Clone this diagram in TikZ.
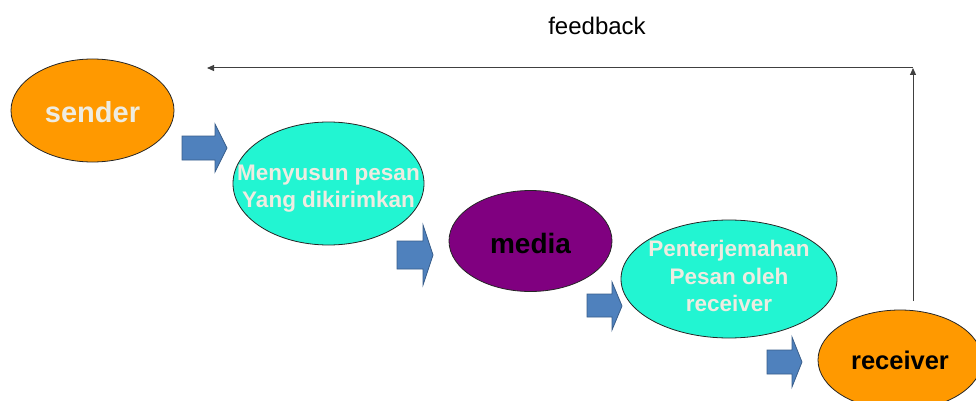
\documentclass[tikz,border=0pt]{standalone}
\usepackage{fontspec}
\setmainfont{Liberation Sans}
\usetikzlibrary{shapes.geometric,arrows.meta}
\definecolor{orng}{HTML}{FF9900}
\definecolor{aqua}{HTML}{22F5D2}
\definecolor{purp}{HTML}{800080}
\definecolor{blk}{HTML}{4F81BD}
\definecolor{blkedge}{HTML}{385D8A}
\definecolor{cream}{HTML}{EEECE1}
\tikzset{
  oval/.style={ellipse, draw=black!85, line width=0.8pt, inner sep=0pt},
  ovaltext/.style={align=center, inner sep=0pt},
  blockarrow/.style={fill=blk, draw=blkedge, line width=0.8pt, line join=miter},
  fb/.style={draw=black!75, line width=1pt, -{Triangle[length=7pt,width=6pt]}},
}
\begin{document}
\begin{tikzpicture}[x=1pt,y=-1pt]
\clip (0,0) rectangle (976,401);
\useasboundingbox (0,0) rectangle (976,401);
% ellipses
\node[oval, fill=orng, minimum width=163pt, minimum height=103pt,
  label={[ovaltext, text=cream, font=\bfseries\fontsize{29}{34}\selectfont, yshift=-1.5pt]center:sender}] (sender) at (92.5,110.5) {};
\node[oval, fill=aqua, minimum width=191pt, minimum height=123pt,
  label={[ovaltext, text=cream, font=\bfseries\fontsize{22.5}{27}\selectfont, yshift=-5pt]center:Menyusun pesan\\Yang dikirimkan}] (susun) at (328.5,183.5) {};
\node[oval, fill=purp, minimum width=163pt, minimum height=101pt,
  label={[ovaltext, text=black, font=\bfseries\fontsize{28}{33}\selectfont, yshift=-2pt]center:media}] (media) at (530.5,241) {};
\node[oval, fill=aqua, minimum width=216pt, minimum height=118pt,
  label={[ovaltext, text=cream, font=\bfseries\fontsize{22.5}{27.5}\selectfont, yshift=3pt]center:Penterjemahan\\Pesan oleh\\receiver}] (terjemah) at (729,279) {};
\node[oval, fill=orng, minimum width=164pt, minimum height=100pt,
  label={[ovaltext, text=black, font=\bfseries\fontsize{25.5}{30}\selectfont]center:receiver}] (receiver) at (900,360) {};
% block arrows
\draw[blockarrow] (182,136) -- (215,136) -- (215,124) -- (227,148) -- (215,172) -- (215,160) -- (182,160) -- cycle;
\draw[blockarrow] (397,241) -- (423,241) -- (423,225) -- (433,255) -- (423,285) -- (423,269) -- (397,269) -- cycle;
\draw[blockarrow] (587,294) -- (612,294) -- (612,282) -- (622,306) -- (612,330) -- (612,317) -- (587,317) -- cycle;
\draw[blockarrow] (767,350) -- (792,350) -- (792,337) -- (802,362) -- (792,387) -- (792,374) -- (767,374) -- cycle;
% feedback
\coordinate (fbstart) at (913,301);
\coordinate (fbcorner) at (913,68);
\coordinate (fbend) at (207,68);
\draw[fb] (fbstart) -- (fbcorner);
\draw[fb] (fbcorner) -- (fbend);
\node[font=\fontsize{24}{28}\selectfont] (feedback) at (597,26) {feedback};
\end{tikzpicture}
\end{document}
